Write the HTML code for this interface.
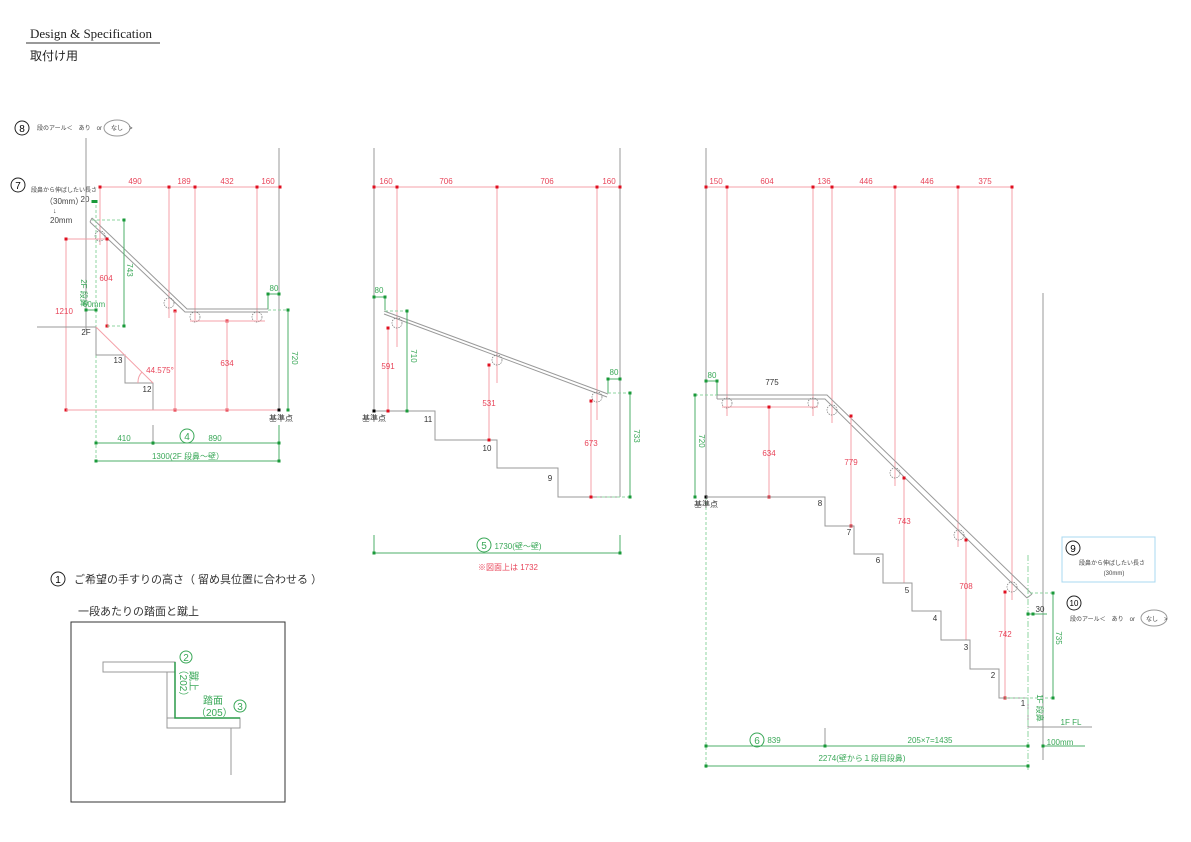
<!DOCTYPE html>
<html><head><meta charset="utf-8"><style>
body{margin:0;background:#fff;}
svg{display:block;font-family:"Liberation Sans","Noto Sans CJK JP",sans-serif;}
.g{stroke:#999;stroke-width:1;fill:none}
.r{stroke:#f4a0a8;stroke-width:1;fill:none}
.gr{stroke:#4caf6a;stroke-width:1;fill:none}
.gd{stroke:#8fd4a0;stroke-width:1;fill:none;stroke-dasharray:3,2}
.rt{fill:#e8455a;font-size:8px;text-anchor:middle}
.gt{fill:#3aa858;font-size:8px;text-anchor:middle}
.kt{fill:#333;font-size:8px;text-anchor:middle}
.rd{fill:#e01020}.gdot{fill:#1a9a3a}
.br{fill:none;stroke:#777;stroke-width:.7;stroke-dasharray:1.5,1}
</style></head><body>
<svg width="1191" height="842" viewBox="0 0 1191 842" xmlns="http://www.w3.org/2000/svg">
<text x="30" y="38" font-family="Liberation Serif,serif" font-size="13" fill="#222">Design &amp; Specification</text>
<line x1="26" y1="43" x2="160" y2="43" stroke="#333"/>
<text x="30" y="60" font-size="12" fill="#222">取付け用</text>

<!-- LEFT -->
<circle cx="22" cy="128" r="7" fill="none" stroke="#222"/><text x="22" y="132" font-size="10" text-anchor="middle">8</text>
<text x="37" y="130" font-size="6" fill="#444">段のアール＜　あり　or</text>
<ellipse cx="117" cy="128" rx="13" ry="8" fill="none" stroke="#999"/><text x="111" y="130" font-size="6" fill="#444">なし　&gt;</text>
<circle cx="18" cy="185" r="7" fill="none" stroke="#222"/><text x="18" y="189" font-size="10" text-anchor="middle">7</text>
<text x="31" y="192" font-size="6" fill="#444">段鼻から伸ばしたい長さ</text>
<text x="45" y="204" font-size="8" fill="#444">（30mm）</text>
<text x="53" y="213" font-size="7" fill="#444">↓</text>
<text x="50" y="223" font-size="8" fill="#444">20mm</text>
<text x="85" y="202" font-size="8" fill="#444" text-anchor="middle">20</text>
<line class="g" x1="86" y1="138" x2="86" y2="330"/>
<line class="g" x1="279" y1="148" x2="279" y2="410"/>
<line class="r" x1="100" y1="187" x2="280" y2="187"/>
<line class="r" x1="100" y1="187" x2="100" y2="245"/><line class="r" x1="169" y1="187" x2="169" y2="318"/><line class="r" x1="195" y1="187" x2="195" y2="320"/><line class="r" x1="257" y1="187" x2="257" y2="320"/>
<g class="rd"><rect x="98.5" y="185.5" width="3" height="3"/><rect x="167.5" y="185.5" width="3" height="3"/><rect x="193.5" y="185.5" width="3" height="3"/><rect x="255.5" y="185.5" width="3" height="3"/><rect x="278.5" y="185.5" width="3" height="3"/></g>
<text class="rt" x="135" y="184">490</text><text class="rt" x="184" y="184">189</text><text class="rt" x="227" y="184">432</text><text class="rt" x="268" y="184">160</text>
<polyline class="g" points="92,218 187,309 268,309"/><polyline class="g" points="90,222 185,312 268,312"/>
<line x1="90" y1="222" x2="92" y2="218" stroke="#999"/>
<circle class="br" cx="100" cy="236" r="5"/><circle class="br" cx="169" cy="303" r="5"/><circle class="br" cx="195" cy="317" r="5"/><circle class="br" cx="257" cy="317" r="5"/>
<line class="r" x1="66" y1="239" x2="107" y2="239"/><line class="r" x1="66" y1="239" x2="66" y2="410"/><line class="r" x1="107" y1="239" x2="107" y2="326"/>
<g class="rd"><rect x="64.5" y="237.5" width="3" height="3"/><rect x="105.5" y="237.5" width="3" height="3"/><rect x="105.5" y="324.5" width="3" height="3"/><rect x="64.5" y="408.5" width="3" height="3"/><rect x="173.5" y="408.5" width="3" height="3"/><rect x="225.5" y="408.5" width="3" height="3"/><rect x="225.5" y="319.5" width="3" height="3"/><rect x="173.5" y="309.5" width="3" height="3"/></g>
<text class="rt" x="64" y="314">1210</text><text class="rt" x="106" y="281">604</text>
<line class="gd" x1="92" y1="220" x2="124" y2="220"/><line class="gd" x1="107" y1="326" x2="124" y2="326"/>
<line class="gr" x1="124" y1="220" x2="124" y2="326"/>
<text class="gt" transform="translate(127,270) rotate(90)">743</text>
<line class="gd" x1="96" y1="200" x2="96" y2="462"/>
<line class="gr" x1="86" y1="310" x2="96" y2="310"/>
<g class="gdot"><rect x="122.5" y="218.5" width="3" height="3"/><rect x="122.5" y="324.5" width="3" height="3"/><rect x="84.5" y="308.5" width="3" height="3"/><rect x="94.5" y="308.5" width="3" height="3"/><rect x="91.5" y="200" width="3" height="3"/><rect x="94.5" y="200" width="3" height="3"/></g>
<text class="gt" transform="translate(81,293) rotate(90)" font-size="7">2F 段鼻</text>
<text class="gt" x="94" y="307">60mm</text>
<line class="g" x1="37" y1="327" x2="96" y2="327"/>
<text class="kt" x="86" y="335">2F</text>
<polyline class="g" points="96,327 96,355 125,355 125,383 153,383 153,410 279,410"/>
<line class="r" x1="96" y1="327" x2="153" y2="383"/>
<path class="r" d="M138,383 A15,15 0 0 1 142,372"/>
<text class="rt" x="160" y="373">44.575°</text>
<text class="kt" x="118" y="363">13</text><text class="kt" x="147" y="392">12</text>
<line class="r" x1="66" y1="410" x2="279" y2="410"/>
<line class="r" x1="175" y1="311" x2="175" y2="410"/>
<line class="r" x1="227" y1="321" x2="227" y2="410"/>
<line class="r" x1="190" y1="321" x2="265" y2="321"/>
<text class="rt" x="227" y="366">634</text>
<rect x="277.5" y="408.5" width="3" height="3" fill="#000"/>
<line class="gr" x1="268" y1="294" x2="279" y2="294"/><line class="gr" x1="268" y1="294" x2="268" y2="309"/>
<text class="gt" x="274" y="291">80</text>
<line class="gd" x1="268" y1="310" x2="288" y2="310"/>
<line class="gr" x1="288" y1="310" x2="288" y2="410"/>
<g class="gdot"><rect x="266.5" y="292.5" width="3" height="3"/><rect x="277.5" y="292.5" width="3" height="3"/><rect x="286.5" y="308.5" width="3" height="3"/><rect x="286.5" y="408.5" width="3" height="3"/></g>
<text class="gt" transform="translate(292,358) rotate(90)">720</text>
<text class="kt" x="281" y="421">基準点</text>
<line class="g" x1="153" y1="425" x2="153" y2="445"/>
<line class="gr" x1="96" y1="443" x2="279" y2="443"/><line class="gr" x1="96" y1="461" x2="279" y2="461"/>
<line class="gr" x1="279" y1="425" x2="279" y2="461"/>
<g class="gdot"><rect x="94.5" y="441.5" width="3" height="3"/><rect x="151.5" y="441.5" width="3" height="3"/><rect x="277.5" y="441.5" width="3" height="3"/><rect x="94.5" y="459.5" width="3" height="3"/><rect x="277.5" y="459.5" width="3" height="3"/></g>
<text class="gt" x="124" y="441">410</text><text class="gt" x="215" y="441">890</text>
<circle cx="187" cy="436" r="7" fill="none" stroke="#3aa858"/><text x="187" y="440" font-size="10" fill="#3aa858" text-anchor="middle">4</text>
<text class="gt" x="188" y="459">1300(2F 段鼻～壁）</text>

<!-- MIDDLE -->
<line class="g" x1="374" y1="148" x2="374" y2="411"/>
<line class="g" x1="620" y1="148" x2="620" y2="497"/>
<line class="r" x1="374" y1="187" x2="620" y2="187"/>
<line class="r" x1="397" y1="187" x2="397" y2="347"/><line class="r" x1="497" y1="187" x2="497" y2="383"/><line class="r" x1="597" y1="187" x2="597" y2="420"/>
<g class="rd"><rect x="372.5" y="185.5" width="3" height="3"/><rect x="395.5" y="185.5" width="3" height="3"/><rect x="495.5" y="185.5" width="3" height="3"/><rect x="595.5" y="185.5" width="3" height="3"/><rect x="618.5" y="185.5" width="3" height="3"/></g>
<text class="rt" x="386" y="184">160</text><text class="rt" x="446" y="184">706</text><text class="rt" x="547" y="184">706</text><text class="rt" x="609" y="184">160</text>
<line class="g" x1="384" y1="311" x2="608" y2="394"/><line class="g" x1="384" y1="314" x2="607" y2="397"/>
<circle class="br" cx="397" cy="323" r="5"/><circle class="br" cx="497" cy="360" r="5"/><circle class="br" cx="597" cy="397" r="5"/>
<line class="gr" x1="374" y1="297" x2="385" y2="297"/><line class="gr" x1="385" y1="297" x2="385" y2="310"/>
<text class="gt" x="379" y="293">80</text>
<line class="gd" x1="385" y1="311" x2="407" y2="311"/><line class="gr" x1="407" y1="311" x2="407" y2="411"/>
<text class="gt" transform="translate(411,356) rotate(90)">710</text>
<line class="r" x1="388" y1="328" x2="388" y2="411"/><text class="rt" x="388" y="369">591</text>
<polyline class="g" points="374,411 435,411 435,440 497,440 497,468 558,468 558,497 620,497"/>
<text class="kt" x="428" y="422">11</text><text class="kt" x="487" y="451">10</text><text class="kt" x="550" y="481">9</text>
<line class="r" x1="489" y1="365" x2="489" y2="440"/><text class="rt" x="489" y="406">531</text>
<line class="r" x1="591" y1="401" x2="591" y2="497"/><text class="rt" x="591" y="446">673</text>
<g class="rd"><rect x="386.5" y="326.5" width="3" height="3"/><rect x="386.5" y="409.5" width="3" height="3"/><rect x="487.5" y="363.5" width="3" height="3"/><rect x="487.5" y="438.5" width="3" height="3"/><rect x="589.5" y="399.5" width="3" height="3"/><rect x="589.5" y="495.5" width="3" height="3"/></g>
<line class="gr" x1="608" y1="379" x2="620" y2="379"/><line class="gr" x1="608" y1="379" x2="608" y2="393"/>
<text class="gt" x="614" y="375">80</text>
<line class="gd" x1="608" y1="393" x2="630" y2="393"/><line class="gd" x1="597" y1="497" x2="630" y2="497"/>
<line class="gr" x1="630" y1="393" x2="630" y2="497"/>
<text class="gt" transform="translate(634,436) rotate(90)">733</text>
<g class="gdot"><rect x="372.5" y="295.5" width="3" height="3"/><rect x="383.5" y="295.5" width="3" height="3"/><rect x="405.5" y="309.5" width="3" height="3"/><rect x="405.5" y="409.5" width="3" height="3"/><rect x="606.5" y="377.5" width="3" height="3"/><rect x="618.5" y="377.5" width="3" height="3"/><rect x="628.5" y="391.5" width="3" height="3"/><rect x="628.5" y="495.5" width="3" height="3"/></g>
<rect x="372.5" y="409.5" width="3" height="3" fill="#000"/>
<text class="kt" x="374" y="421">基準点</text>
<line class="gr" x1="374" y1="535" x2="374" y2="553"/><line class="gr" x1="620" y1="535" x2="620" y2="553"/>
<line class="gr" x1="374" y1="553" x2="620" y2="553"/>
<g class="gdot"><rect x="372.5" y="551.5" width="3" height="3"/><rect x="618.5" y="551.5" width="3" height="3"/></g>
<circle cx="484" cy="545" r="7" fill="none" stroke="#3aa858"/><text x="484" y="549" font-size="10" fill="#3aa858" text-anchor="middle">5</text>
<text class="gt" x="518" y="549">1730(壁～壁)</text>
<text class="rt" x="508" y="570">※図面上は 1732</text>

<!-- RIGHT -->
<line class="g" x1="706" y1="148" x2="706" y2="497"/>
<line class="gd" x1="706" y1="497" x2="706" y2="768"/>
<line class="r" x1="706" y1="187" x2="1012" y2="187"/>
<line class="r" x1="727" y1="187" x2="727" y2="416"/><line class="r" x1="813" y1="187" x2="813" y2="416"/><line class="r" x1="832" y1="187" x2="832" y2="423"/><line class="r" x1="895" y1="187" x2="895" y2="486"/><line class="r" x1="958" y1="187" x2="958" y2="547"/><line class="r" x1="1012" y1="187" x2="1012" y2="600"/>
<g class="rd"><rect x="704.5" y="185.5" width="3" height="3"/><rect x="725.5" y="185.5" width="3" height="3"/><rect x="811.5" y="185.5" width="3" height="3"/><rect x="830.5" y="185.5" width="3" height="3"/><rect x="893.5" y="185.5" width="3" height="3"/><rect x="956.5" y="185.5" width="3" height="3"/><rect x="1010.5" y="185.5" width="3" height="3"/></g>
<text class="rt" x="716" y="184">150</text><text class="rt" x="767" y="184">604</text><text class="rt" x="824" y="184">136</text><text class="rt" x="866" y="184">446</text><text class="rt" x="927" y="184">446</text><text class="rt" x="985" y="184">375</text>
<polyline class="g" points="717,395 827,395 1032,594"/><polyline class="g" points="717,399 825,399 1027,598"/>
<line x1="1027" y1="598" x2="1032" y2="594" stroke="#999"/><line x1="717" y1="395" x2="717" y2="399" stroke="#999"/>
<circle class="br" cx="727" cy="403" r="5"/><circle class="br" cx="813" cy="403" r="5"/><circle class="br" cx="832" cy="410" r="5"/><circle class="br" cx="895" cy="473" r="5"/><circle class="br" cx="959" cy="535" r="5"/><circle class="br" cx="1012" cy="587" r="5"/>
<text class="kt" x="772" y="385">775</text>
<line class="r" x1="722" y1="407" x2="818" y2="407"/>
<line class="r" x1="769" y1="407" x2="769" y2="497"/><text class="rt" x="769" y="456">634</text>
<line class="r" x1="851" y1="416" x2="851" y2="526"/><text class="rt" x="851" y="465">779</text>
<line class="r" x1="904" y1="478" x2="904" y2="583"/><text class="rt" x="904" y="524">743</text>
<line class="r" x1="966" y1="540" x2="966" y2="640"/><text class="rt" x="966" y="589">708</text>
<line class="r" x1="1005" y1="592" x2="1005" y2="698"/><text class="rt" x="1005" y="637">742</text>
<g class="rd"><rect x="767.5" y="405.5" width="3" height="3"/><rect x="767.5" y="495.5" width="3" height="3"/><rect x="849.5" y="414.5" width="3" height="3"/><rect x="849.5" y="524.5" width="3" height="3"/><rect x="902.5" y="476.5" width="3" height="3"/><rect x="964.5" y="538.5" width="3" height="3"/><rect x="1003.5" y="590.5" width="3" height="3"/><rect x="1003.5" y="696.5" width="3" height="3"/></g>
<line class="gr" x1="706" y1="381" x2="717" y2="381"/><line class="gr" x1="717" y1="381" x2="717" y2="395"/>
<text class="gt" x="712" y="378">80</text>
<line class="gd" x1="695" y1="395" x2="717" y2="395"/><line class="gr" x1="695" y1="395" x2="695" y2="497"/>
<text class="gt" transform="translate(699,441) rotate(90)">720</text>
<g class="gdot"><rect x="704.5" y="379.5" width="3" height="3"/><rect x="715.5" y="379.5" width="3" height="3"/><rect x="693.5" y="393.5" width="3" height="3"/><rect x="693.5" y="495.5" width="3" height="3"/></g>
<rect x="704.5" y="495.5" width="3" height="3" fill="#000"/>
<text class="kt" x="706" y="507">基準点</text>
<polyline class="g" points="706,497 825,497 825,526 854,526 854,554 883,554 883,583 912,583 912,611 941,611 941,640 970,640 970,669 999,669 999,698 1028,698 1028,727 1092,727"/>
<text class="kt" x="820" y="506">8</text><text class="kt" x="849" y="535">7</text><text class="kt" x="878" y="563">6</text><text class="kt" x="907" y="593">5</text><text class="kt" x="935" y="621">4</text><text class="kt" x="966" y="650">3</text><text class="kt" x="993" y="678">2</text><text class="kt" x="1023" y="706">1</text>
<line class="g" x1="1043" y1="293" x2="1043" y2="760"/>
<line x1="1028" y1="555" x2="1028" y2="770" stroke="#8fd4a0" stroke-dasharray="6,2,1,2"/>
<line class="gr" x1="1028" y1="614" x2="1047" y2="614"/>
<text class="kt" x="1040" y="612">30</text>
<line class="gd" x1="1030" y1="593" x2="1053" y2="593"/><line class="gd" x1="1005" y1="698" x2="1053" y2="698"/>
<line class="gr" x1="1053" y1="593" x2="1053" y2="698"/>
<text class="gt" transform="translate(1056,638) rotate(90)">735</text>
<g class="gdot"><rect x="1026.5" y="612.5" width="3" height="3"/><rect x="1031.5" y="612.5" width="3" height="3"/><rect x="1051.5" y="591.5" width="3" height="3"/><rect x="1051.5" y="696.5" width="3" height="3"/></g>
<text class="gt" transform="translate(1037,708) rotate(90)" font-size="7">1F 段鼻</text>
<text class="gt" x="1071" y="725">1F FL</text>
<line class="gr" x1="706" y1="746" x2="1028" y2="746"/><line class="gr" x1="1043" y1="746" x2="1085" y2="746"/>
<line class="g" x1="825" y1="728" x2="825" y2="746"/>
<line class="gr" x1="706" y1="766" x2="1028" y2="766"/>
<g class="gdot"><rect x="704.5" y="744.5" width="3" height="3"/><rect x="823.5" y="744.5" width="3" height="3"/><rect x="1026.5" y="744.5" width="3" height="3"/><rect x="1041.5" y="744.5" width="3" height="3"/><rect x="704.5" y="764.5" width="3" height="3"/><rect x="1026.5" y="764.5" width="3" height="3"/></g>
<circle cx="757" cy="740" r="7" fill="none" stroke="#3aa858"/><text x="757" y="744" font-size="10" fill="#3aa858" text-anchor="middle">6</text>
<text class="gt" x="774" y="743">839</text>
<text class="gt" x="930" y="743">205×7=1435</text>
<text class="gt" x="1060" y="745">100mm</text>
<text class="gt" x="862" y="761">2274(壁から１段目段鼻)</text>
<rect x="1062" y="537" width="93" height="45" fill="none" stroke="#a8d8f0"/>
<circle cx="1073" cy="548" r="7" fill="none" stroke="#222"/><text x="1073" y="552" font-size="10" text-anchor="middle">9</text>
<text x="1112" y="565" font-size="6" fill="#444" text-anchor="middle">段鼻から伸ばしたい長さ</text>
<text x="1114" y="575" font-size="6" fill="#444" text-anchor="middle">(30mm)</text>
<circle cx="1074" cy="603" r="7" fill="none" stroke="#222"/><text x="1074" y="606" font-size="8" text-anchor="middle">10</text>
<text x="1070" y="621" font-size="6" fill="#444">段のアール＜　あり　or</text>
<ellipse cx="1154" cy="618" rx="13" ry="8" fill="none" stroke="#999"/><text x="1146" y="621" font-size="6" fill="#444">なし　&gt;</text>

<!-- BOTTOM LEFT -->
<circle cx="58" cy="579" r="7" fill="none" stroke="#222"/><text x="58" y="583" font-size="10" text-anchor="middle">1</text>
<text x="74" y="583" font-size="11" fill="#333">ご希望の手すりの高さ（ 留め具位置に合わせる ）</text>
<text x="78" y="615" font-size="11" fill="#333">一段あたりの踏面と蹴上</text>
<rect x="71" y="622" width="214" height="180" fill="none" stroke="#333"/>
<rect x="103" y="662" width="72" height="10" fill="none" stroke="#999"/>
<line class="g" x1="167" y1="672" x2="167" y2="718"/>
<rect x="167" y="718" width="73" height="10" fill="none" stroke="#999"/>
<line class="g" x1="231" y1="728" x2="231" y2="775"/>
<polyline points="175,662 175,718 240,718" fill="none" stroke="#2a9a48" stroke-width="1.5"/>
<circle cx="186" cy="657" r="6" fill="none" stroke="#3aa858"/><text x="186" y="661" font-size="10" fill="#3aa858" text-anchor="middle">2</text>
<text fill="#3aa858" font-size="10" text-anchor="middle" transform="translate(180,683) rotate(90)">（202）</text>
<text fill="#3aa858" font-size="10" text-anchor="middle" transform="translate(190,681) rotate(90)">蹴上</text>
<text fill="#3aa858" font-size="10" x="203" y="704">踏面</text>
<text fill="#3aa858" font-size="10" x="196" y="716">（205）</text>
<circle cx="240" cy="706" r="6" fill="none" stroke="#3aa858"/><text x="240" y="710" font-size="10" fill="#3aa858" text-anchor="middle">3</text>
</svg>
</body></html>
